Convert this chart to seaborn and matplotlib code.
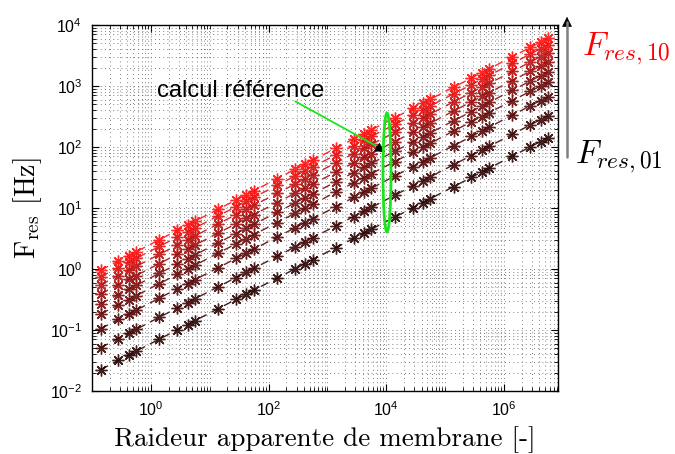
import numpy as np
import matplotlib
matplotlib.use('Agg')
import matplotlib.pyplot as plt
import matplotlib.ticker as mticker
from matplotlib.patches import Ellipse, FancyArrowPatch
from matplotlib.lines import Line2D
import seaborn as sns

# raideur apparente (x) : 8 groupes de 4 colonnes
raideur = [0.14, 0.28, 0.42, 0.56, 1.4, 2.8, 4.2, 5.6,
           14, 28, 42, 56, 140, 280, 420, 560,
           1.4e3, 2.8e3, 4.2e3, 5.6e3, 1.4e4, 2.8e4, 4.2e4, 5.6e4,
           1.4e5, 2.8e5, 4.2e5, 5.6e5, 1.4e6, 2.8e6, 4.2e6, 5.6e6]

# frequences de resonance par mode (du plus bas au plus haut)
f_mode1 = [0.0224, 0.0317, 0.0389, 0.0449, 0.0710, 0.100, 0.123, 0.142,
           0.224, 0.317, 0.389, 0.449, 0.710, 1.00, 1.23, 1.42,
           2.24, 3.17, 3.89, 4.49, 7.10, 10.0, 12.3, 14.2,
           22.4, 31.7, 38.9, 44.9, 71.0, 100, 123, 142]
f_mode2 = [0.0512, 0.0725, 0.0888, 0.102, 0.162, 0.229, 0.281, 0.324,
           0.512, 0.725, 0.888, 1.02, 1.62, 2.29, 2.81, 3.24,
           5.12, 7.25, 8.88, 10.2, 16.2, 22.9, 28.1, 32.4,
           51.2, 72.5, 88.8, 102, 162, 229, 281, 324]
f_mode3 = [0.105, 0.149, 0.183, 0.211, 0.334, 0.472, 0.578, 0.667,
           1.05, 1.49, 1.83, 2.11, 3.34, 4.72, 5.78, 6.67,
           10.5, 14.9, 18.3, 21.1, 33.4, 47.2, 57.8, 66.7,
           105, 149, 183, 211, 334, 472, 578, 667]
f_mode4 = [0.183, 0.258, 0.316, 0.365, 0.577, 0.816, 1.00, 1.15,
           1.83, 2.58, 3.16, 3.65, 5.77, 8.16, 10.0, 11.5,
           18.3, 25.8, 31.6, 36.5, 57.7, 81.6, 100, 115,
           183, 258, 316, 365, 577, 816, 1000, 1150]
f_mode5 = [0.269, 0.381, 0.467, 0.539, 0.852, 1.20, 1.48, 1.70,
           2.69, 3.81, 4.67, 5.39, 8.52, 12.0, 14.8, 17.0,
           26.9, 38.1, 46.7, 53.9, 85.2, 120, 148, 170,
           269, 381, 467, 539, 852, 1200, 1480, 1700]
f_mode6 = [0.389, 0.550, 0.674, 0.778, 1.23, 1.74, 2.13, 2.46,
           3.89, 5.50, 6.74, 7.78, 12.3, 17.4, 21.3, 24.6,
           38.9, 55.0, 67.4, 77.8, 123, 174, 213, 246,
           389, 550, 674, 778, 1230, 1740, 2130, 2460]
f_mode7 = [0.550, 0.778, 0.953, 1.10, 1.74, 2.46, 3.01, 3.48,
           5.50, 7.78, 9.53, 11.0, 17.4, 24.6, 30.1, 34.8,
           55.0, 77.8, 95.3, 110, 174, 246, 301, 348,
           550, 778, 953, 1100, 1740, 2460, 3010, 3480]
f_mode8 = [0.744, 1.05, 1.29, 1.49, 2.35, 3.33, 4.08, 4.71,
           7.44, 10.5, 12.9, 14.9, 23.5, 33.3, 40.8, 47.1,
           74.4, 105, 129, 149, 235, 333, 408, 471,
           744, 1050, 1290, 1490, 2350, 3330, 4080, 4710]
f_mode9 = [0.957, 1.35, 1.66, 1.91, 3.03, 4.28, 5.25, 6.06,
           9.57, 13.5, 16.6, 19.1, 30.3, 42.8, 52.5, 60.6,
           95.7, 135, 166, 191, 303, 428, 525, 606,
           957, 1350, 1660, 1910, 3030, 4280, 5250, 6060]

modes = [f_mode1, f_mode2, f_mode3, f_mode4, f_mode5, f_mode6, f_mode7, f_mode8, f_mode9]

sns.set_style('ticks', {'xtick.direction': 'in', 'ytick.direction': 'in'})
plt.rcParams['font.family'] = ['Liberation Sans', 'DejaVu Sans']
plt.rcParams['mathtext.fontset'] = 'custom'
plt.rcParams['mathtext.rm'] = 'Liberation Sans'
plt.rcParams['mathtext.it'] = 'Liberation Sans:italic'

fig = plt.figure(figsize=(6.75, 4.54), dpi=100)
ax = fig.add_axes([92/675, 1-391/454, 466/675, 366/454])

colors = sns.blend_palette(['#2b0606', '#7a1010', '#ff1515'], len(modes))
for f, c in zip(modes, colors):
    sns.lineplot(x=raideur, y=f, ax=ax, color=c, marker=(8, 2, 0), markersize=8.5,
                 markeredgewidth=1.0, markeredgecolor=c, linestyle=(0, (6, 4)),
                 linewidth=1.0, alpha=0.9)

ax.set_xscale('log')
ax.set_yscale('log')
ax.set_xlim(10**-1, 10**6.92)
ax.set_ylim(1e-2, 1e4)

fmt = mticker.FuncFormatter(lambda v, p: r'$\mathrm{10^{%d}}$' % round(np.log10(v)))
ax.xaxis.set_major_locator(mticker.FixedLocator([1e0, 1e2, 1e4, 1e6]))
ax.xaxis.set_major_formatter(fmt)
ax.xaxis.set_minor_locator(mticker.LogLocator(base=10, subs=np.arange(1, 10), numticks=50))
ax.xaxis.set_minor_formatter(mticker.NullFormatter())
ax.yaxis.set_major_locator(mticker.FixedLocator([1e-2, 1e-1, 1e0, 1e1, 1e2, 1e3, 1e4]))
ax.yaxis.set_major_formatter(fmt)
ax.yaxis.set_minor_locator(mticker.LogLocator(base=10, subs=np.arange(2, 10), numticks=50))
ax.yaxis.set_minor_formatter(mticker.NullFormatter())

ax.grid(which='both', linestyle=(0, (1, 4)), color='#5a5a5a', linewidth=0.6)
ax.tick_params(which='both', direction='in', top=True, right=True, labelsize=11.5, colors='black')
ax.tick_params(which='major', length=5, pad=7)
ax.tick_params(which='minor', length=3)
for s in ax.spines.values():
    s.set_linewidth(1.0)
    s.set_color('black')

ax.set_xlabel('Raideur apparente de membrane [-]', fontfamily='cmr10', fontsize=19.5,
              labelpad=5, color='black')
ax.set_ylabel(r'$\mathrm{F_{res}}$ [Hz]', fontfamily='cmr10', math_fontfamily='cm', fontsize=20,
              labelpad=4, color='black')

# annotation calcul reference
ax.text(0.139, 0.803, 'calcul référence', transform=ax.transAxes, fontsize=17, color='black')
ax.annotate('', xy=(0.615, 0.666), xytext=(0.431, 0.795), xycoords='axes fraction',
            arrowprops=dict(arrowstyle='-', color='#19e619', lw=1.3))
ax.annotate('', xy=(0.634, 0.648), xytext=(0.605, 0.672), xycoords='axes fraction',
            arrowprops=dict(arrowstyle='-|>', color='black', lw=0.8, mutation_scale=15))
ax.add_patch(Ellipse((0.633, 0.597), 0.0172, 0.325, transform=ax.transAxes,
                     fill=False, ec='#19e619', lw=2, zorder=5, clip_on=False))

# fleche de droite
fig.add_artist(Line2D([567/675, 567/675], [1-157/454, 1-22/454], color='#808080', lw=1.8))
fig.add_artist(FancyArrowPatch((567/675, 1-30/454), (567/675, 1-14/454),
                               transform=fig.transFigure, arrowstyle='-|>',
                               mutation_scale=16, color='black', lw=0.5))
fig.text(582/675, 1-55/454, r'$F_{res,10}$', color='red', fontsize=24, math_fontfamily='cm', va='baseline')
fig.text(575/675, 1-163/454, r'$F_{res,01}$', color='black', fontsize=24, math_fontfamily='cm', va='baseline')

fig.savefig('out.png', dpi=100)
